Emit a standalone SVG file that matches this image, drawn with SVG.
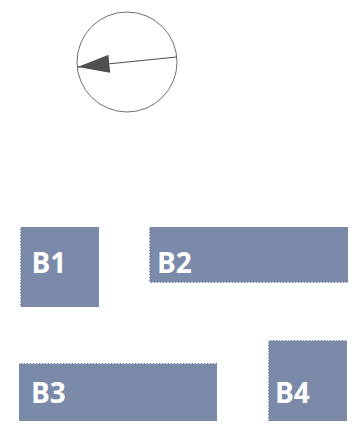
<svg xmlns="http://www.w3.org/2000/svg" width="360" height="429" viewBox="0 0 360 429">
<defs>
<style>
.box{fill:#7c8aa9;}
.edge{stroke:#d9dde7;stroke-width:1;stroke-dasharray:2 1;fill:none;}
.lbl{font-family:"Open Sans","DejaVu Sans",sans-serif;font-weight:bold;font-size:28px;fill:#ffffff;}
</style>
<marker id="ah" markerWidth="32" markerHeight="18" refX="32" refY="9" orient="auto" markerUnits="userSpaceOnUse">
<path d="M0,0 L32,9 L0,18 Z" fill="#505050"/>
</marker>
</defs>
<g id="dial">
<circle cx="127" cy="62" r="50" fill="#ffffff" stroke="#707070" stroke-width="1"/>
</g>
<g id="connectors">
<line x1="177" y1="57" x2="77.5" y2="67" stroke="#505050" stroke-width="1.2" marker-end="url(#ah)"/>
</g>
<g id="B1">
<rect class="box" x="20" y="227" width="79" height="80"/>
<line class="edge" x1="20.5" y1="227" x2="20.5" y2="307"/>
<text class="lbl" x="31.5" y="273">B1</text>
</g>
<g id="B2">
<rect class="box" x="149" y="227" width="199" height="56"/>
<line class="edge" x1="149.5" y1="227" x2="149.5" y2="283"/>
<line class="edge" x1="149" y1="282.5" x2="348" y2="282.5"/>
<text class="lbl" x="157" y="273">B2</text>
</g>
<g id="B3">
<rect class="box" x="19" y="363" width="198" height="58"/>
<line class="edge" x1="19" y1="363.5" x2="217" y2="363.5"/>
<text class="lbl" x="31" y="402.5">B3</text>
</g>
<g id="B4">
<rect class="box" x="268" y="340" width="79" height="81"/>
<line class="edge" x1="268.5" y1="340" x2="268.5" y2="421"/>
<line class="edge" x1="268" y1="340.5" x2="347" y2="340.5"/>
<text class="lbl" x="275" y="402.5">B4</text>
</g>
</svg>
